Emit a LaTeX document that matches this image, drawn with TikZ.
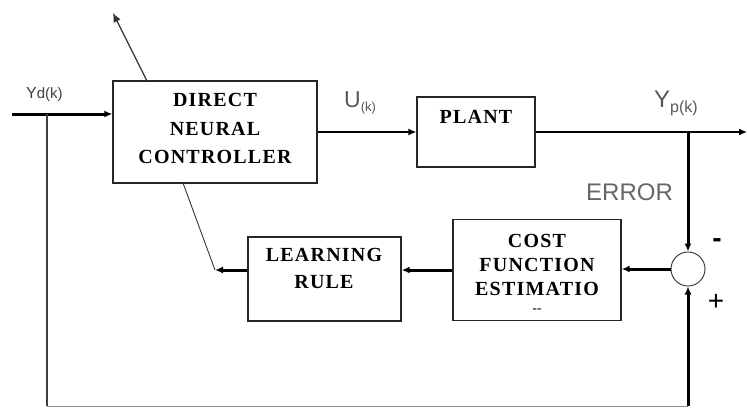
\documentclass[tikz,border=0pt]{standalone}
\usepackage{fontspec}
\setmainfont{Liberation Serif}
\newfontfamily\labfont{Liberation Sans}
\newfontfamily\boxfont[LetterSpace=6]{Liberation Serif}
\usetikzlibrary{arrows.meta}
\begin{document}
\begin{tikzpicture}[x=1pt,y=-1pt,
  blk/.style={draw=black!85, line width=1.3pt, inner sep=0pt},
  btxt/.style={font=\boxfont\bfseries\fontsize{20}{#1}\selectfont, align=center, inner sep=0pt, anchor=center},
  lab/.style={font=\labfont, text=black!65, inner sep=0pt},
  thk/.style={line width=3pt, -{Latex[length=8pt,width=7pt]}},
  thn/.style={line width=1.4pt, -{Latex[length=8pt,width=7pt]}},
  hair/.style={line width=0.9pt, black!80},
]
\useasboundingbox (0,0) rectangle (747,408);

% boxes
\node[blk, minimum width=204pt, minimum height=102pt] (ctrl) at (215,132) {};
\node[blk, minimum width=118pt, minimum height=70pt] (plant) at (476,132) {};
\node[blk, minimum width=153pt, minimum height=84pt] (lr) at (324.5,279) {};
\node[blk, minimum width=168pt, minimum height=101pt] (cost) at (537,270) {};
\node[draw=black!75, line width=1pt, circle, minimum size=34pt, inner sep=0pt] (sum) at (688,269) {};

% box texts
\node[btxt=28.5] (ctrltxt) at (215,128.5) {DIRECT\\NEURAL\\CONTROLLER};
\node[btxt=27] (planttxt) at (476,117) {PLANT};
\node[btxt=27] (lrtxt) at (324,268.5) {LEARNING\\RULE};
\node[btxt=24] (costtxt) at (537,265) {COST\\FUNCTION\\ESTIMATIO};
\node[font=\bfseries\fontsize{13}{13}\selectfont, inner sep=0pt] (costcut) at (537,311) {-{}-};

% coordinates
\coordinate (in1) at (12,114);
\coordinate (br) at (47,114);
\coordinate (bl) at (47,406);
\coordinate (brr) at (688,406);
\coordinate (out) at (747,132);
\coordinate (tap) at (688,132);
\coordinate (la) at (215,270);
\coordinate (d1) at (183,183);
\coordinate (d2) at (147,81);
\coordinate (d3) at (113,13);

% connectors
\draw[thk] (in1) -- (ctrl.west |- in1);
\draw[line width=2pt, black!75] (br) -- (bl);
\draw[line width=1pt, black!45] (bl) -- (brr);
\draw[thk] (brr) -- (sum.south);
\draw[thn] (ctrl.east) -- (plant.west);
\draw[thn] (plant.east) -- (out);
\draw[thk] (tap) -- (sum.north);
\draw[thk] (sum.west) -- (cost.east |- sum.west);
\draw[thk] (cost.west |- la) -- (lr.east |- la);
\draw[thk] (lr.west |- la) -- (la);
\draw[hair] (la) -- (d1);
\draw[hair, line width=1.2pt, -{Latex[length=9pt,width=8pt]}] (d2) -- (d3);

% labels
\node[lab, anchor=base west, text=black!75] (ydlab) at (26,98) {\fontsize{16}{16}\selectfont Y{\fontsize{15}{15}\selectfont d(k)}};
\node[lab, anchor=base west] (ulab) at (344,107) {\fontsize{23}{23}\selectfont U\raisebox{-4pt}{\fontsize{13}{13}\selectfont (k)}};
\node[lab, anchor=base west] (yplab) at (654,107) {\fontsize{24}{24}\selectfont Y\raisebox{-5pt}{\fontsize{16}{16}\selectfont p(k)}};
\node[lab, anchor=base west, text=black!60] (errlab) at (586,200) {\fontsize{24}{24}\selectfont ERROR};
\node[font=\labfont\bfseries\fontsize{28}{28}\selectfont, inner sep=0pt] (minus) at (717,243) {-};
\node[font=\labfont\fontsize{28}{28}\selectfont, inner sep=0pt] (plus) at (716,302) {+};
\end{tikzpicture}
\end{document}
